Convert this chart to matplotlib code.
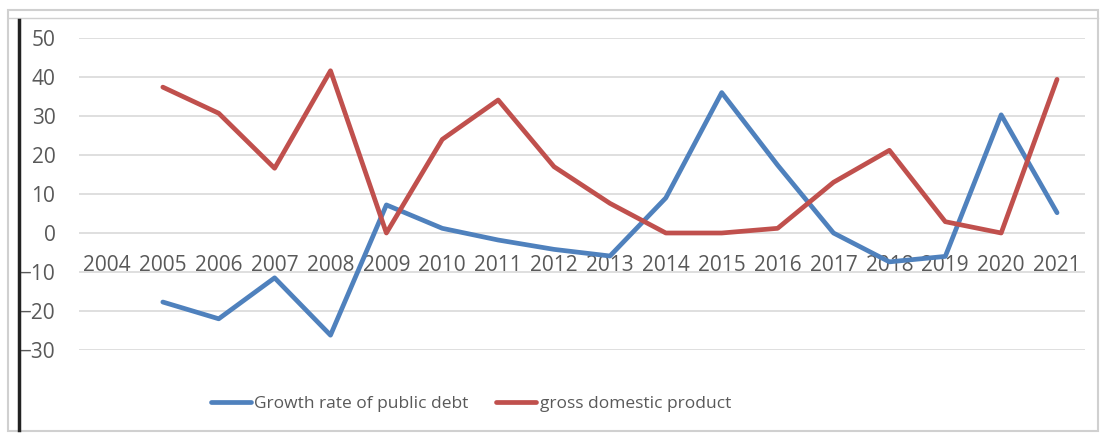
import matplotlib.pyplot as plt
from matplotlib.patches import Rectangle
from matplotlib.lines import Line2D

years = [str(y) for y in range(2004, 2022)]
# no value for 2004
debt_growth = [None, -17.7, -22, -11.5, -26.2, 7.2, 1.2, -1.8, -4.2, -5.9,
               9, 36, 17.4, 0, -7.4, -6, 30.3, 5.2]
gdp = [None, 37.4, 30.7, 16.6, 41.6, 0, 24, 34.1, 17, 7.6,
       0, 0, 1.2, 13, 21.2, 2.9, 0, 39.4]

blue = "#4F81BD"
red = "#C0504D"
text_col = "#595959"

plt.rcParams['font.family'] = ['Open Sans', 'DejaVu Sans']

fig = plt.figure(figsize=(11.04, 4.34), dpi=100)
ax = fig.add_axes([79 / 1104, 84 / 434, 1006 / 1104, 312 / 434])

x = list(range(len(years)))
xs_d = [i for i, v in zip(x, debt_growth) if v is not None]
ys_d = [v for v in debt_growth if v is not None]
xs_g = [i for i, v in zip(x, gdp) if v is not None]
ys_g = [v for v in gdp if v is not None]

ax.plot(xs_d, ys_d, color=blue, linewidth=3.4, solid_capstyle='round',
        solid_joinstyle='round', label="Growth rate of public debt")
ax.plot(xs_g, ys_g, color=red, linewidth=3.4, solid_capstyle='round',
        solid_joinstyle='round', label="gross domestic product")

ax.set_xlim(-0.5, len(years) - 0.5)
ax.set_ylim(-30, 50)
ax.set_yticks(range(-30, 51, 10))
ax.grid(axis='y', color='#D9D9D9', linewidth=1.2)
ax.set_axisbelow(True)

ax.set_xticks(x)
ax.set_xticklabels(years)
ax.spines['bottom'].set_position(('data', 0))
for s in ax.spines.values():
    s.set_visible(False)
ax.tick_params(axis='x', length=0, pad=16, labelsize=15, labelcolor=text_col)
ax.tick_params(axis='y', length=0, pad=17, labelsize=15, labelcolor=text_col)

fig.legend(loc='center', bbox_to_anchor=(471 / 1104, 30 / 434), ncol=2,
           frameon=False, fontsize=12.5, handlelength=2.3, handletextpad=0.2,
           columnspacing=1.6, labelcolor=text_col)

# frame of the picture
fig.patches.append(Rectangle((8 / 1104, 3 / 434), 1090 / 1104, 421 / 434,
                             transform=fig.transFigure, fill=False,
                             edgecolor='#D0D0D0', linewidth=1.5))
fig.lines.append(Line2D([8 / 1104, 1098 / 1104], [416 / 434, 416 / 434],
                        transform=fig.transFigure, color='#D0D0D0', linewidth=1))
fig.lines.append(Line2D([19 / 1104, 19 / 1104], [4 / 434, 414 / 434],
                        transform=fig.transFigure, color='#222222', linewidth=2.5))

fig.savefig("out.png", dpi=100)
